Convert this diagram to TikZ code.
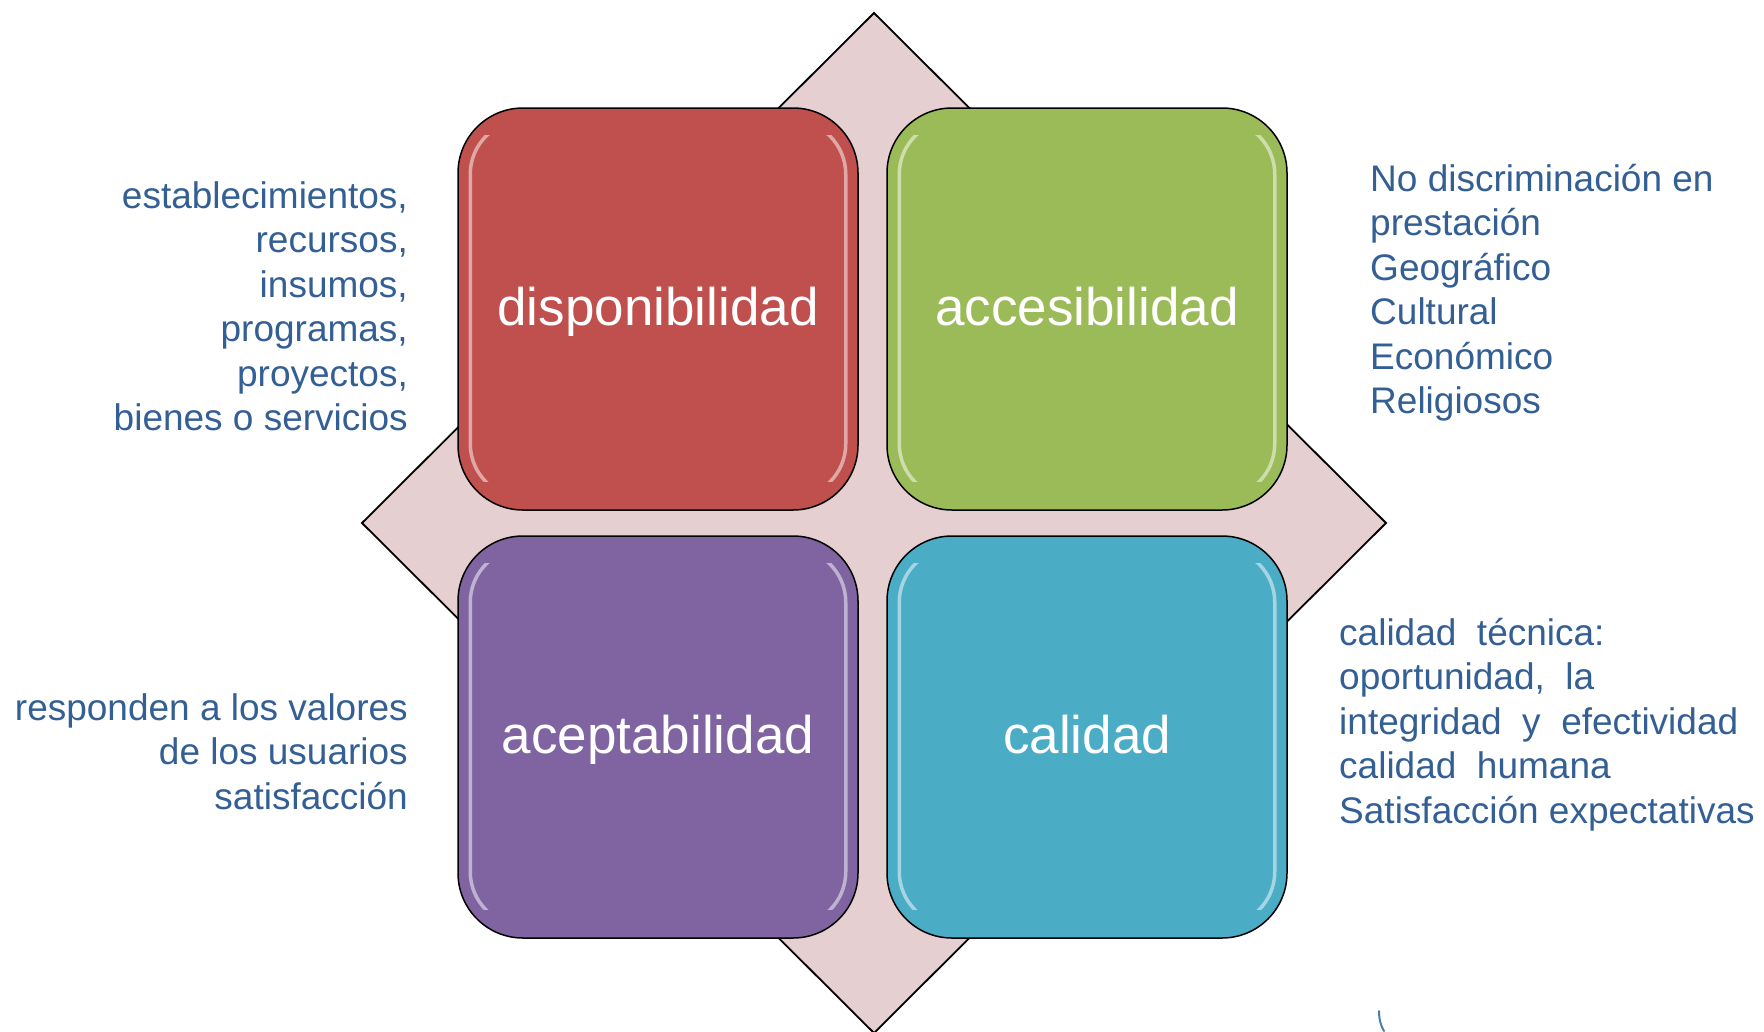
\documentclass[tikz,border=0pt]{standalone}
\usepackage{fontspec}
\setmainfont{Liberation Sans}
\definecolor{boxred}{HTML}{C0504D}
\definecolor{boxgreen}{HTML}{9BBB59}
\definecolor{boxpurple}{HTML}{8064A2}
\definecolor{boxteal}{HTML}{4BACC6}
\definecolor{diamfill}{HTML}{E6CFD0}
\definecolor{sidetext}{HTML}{335F95}
\definecolor{markblue}{HTML}{4A7FA8}
\tikzset{
  quad/.style={draw=black, line width=1.5pt, rounded corners=65pt,
    minimum width=400pt, minimum height=402pt, inner sep=0pt,
    text=white, font=\fontsize{53}{64}\selectfont,
    text height=38pt, text depth=6pt},
  sidebox/.style={inner sep=0pt, text=sidetext,
    font=\fontsize{37}{44.5}\selectfont},
  gloss/.style={draw=white, line width=3.5pt, opacity=0.5, rounded corners=54pt}
}
\newcommand{\glossbox}[1]{%
  \begin{scope}
    \clip (#1.north west) ++(0,28) rectangle ++(40,346);
    \draw[gloss] ($(#1.north west)+(13,13)$) rectangle ($(#1.south east)+(-13,-13)$);
  \end{scope}
  \begin{scope}
    \clip (#1.north east) ++(0,28) rectangle ++(-40,346);
    \draw[gloss] ($(#1.north west)+(13,13)$) rectangle ($(#1.south east)+(-13,-13)$);
  \end{scope}}
\usetikzlibrary{calc}
\begin{document}
\begin{tikzpicture}[x=1pt,y=-1pt]
\useasboundingbox (0,0) rectangle (1764,1031);
\fill[white] (0,0) rectangle (1764,1031);
% diamond
\draw[fill=diamfill, line width=1.8pt, line join=miter]
  (874,13) coordinate (dtop) -- (1386,523) coordinate (dright)
  -- (874,1033) coordinate (dbot) -- (362,523) coordinate (dleft) -- cycle;
% boxes
\node[quad, fill=boxred] (disp) at (658,309) {disponibilidad};
\node[quad, fill=boxgreen] (acc) at (1087,309) {accesibilidad};
\node[quad, fill=boxpurple] (acep) at (658,737) {aceptabilidad};
\node[quad, fill=boxteal] (cal) at (1087,737) {calidad};
\glossbox{disp}
\glossbox{acc}
\glossbox{acep}
\glossbox{cal}
% side texts
\node[sidebox, anchor=north east, align=right] (tdisp) at (408,178)
  {\rule{0pt}{30pt}establecimientos,\\recursos,\\insumos,\\programas,\\proyectos,\\bienes o servicios};
\node[sidebox, anchor=north west, align=left] (tacc) at (1370,161)
  {\rule{0pt}{30pt}No discriminación en\\prestación\\Geográfico\\Cultural\\Económico\\Religiosos};
\node[sidebox, anchor=north east, align=right] (tacep) at (408,690)
  {\rule{0pt}{30pt}responden a los valores\\de los usuarios\\satisfacción};
\node[sidebox, anchor=north west, align=left] (tcal) at (1339,615)
  {\rule{0pt}{30pt}calidad\ \ técnica:\\oportunidad,\ \ la\\integridad\ \ y\ \ efectividad\\calidad\ \ humana\\Satisfacción expectativas};
% small mark at the bottom edge
\draw[markblue, line width=2pt, line cap=round] (1379,1011) .. controls (1379,1020) and (1381,1026) .. (1384,1031);
\end{tikzpicture}
\end{document}
